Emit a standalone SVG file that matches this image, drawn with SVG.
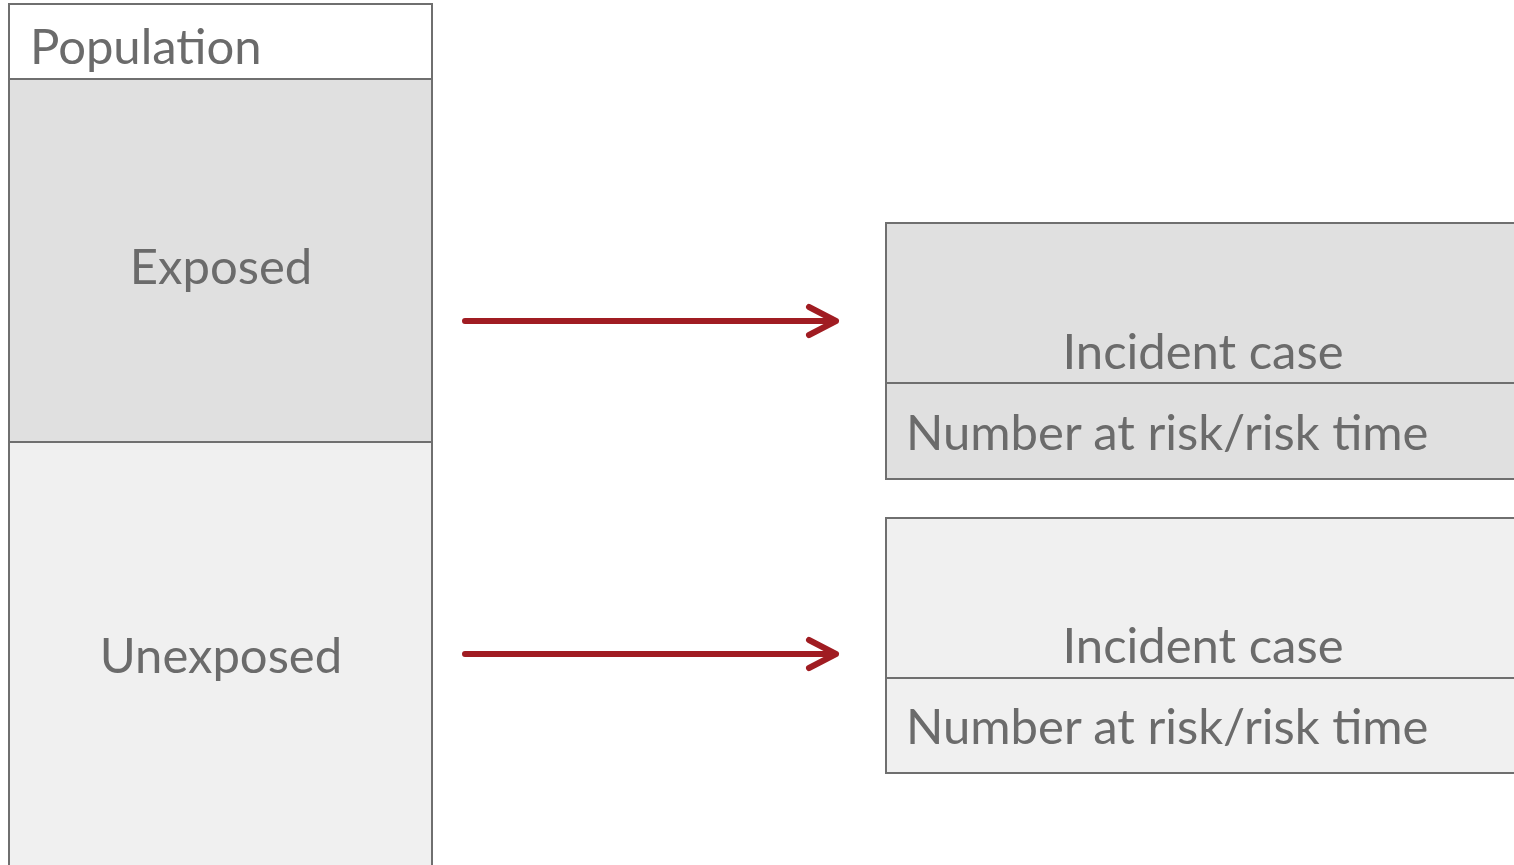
<svg xmlns="http://www.w3.org/2000/svg" width="1514" height="865" viewBox="0 0 1514 865">
<style>
.box{stroke:#6f6f6f;stroke-width:2}
.t{font-family:Lato,"Open Sans",sans-serif;font-size:49px;fill:#6b6b6b}
.arr{stroke:#a01c22;stroke-width:6;fill:none;stroke-linecap:round;stroke-linejoin:round}
</style>
<rect width="1514" height="865" fill="#fff"/>
<g id="population">
<rect class="box" x="9" y="4" width="423" height="75" fill="#fff"/>
<text class="t" x="30" y="64">Population</text>
</g>
<g id="exposed">
<rect class="box" x="9" y="79" width="423" height="363" fill="#e0e0e0"/>
<text class="t" x="221" y="284" text-anchor="middle">Exposed</text>
</g>
<g id="unexposed">
<rect class="box" x="9" y="442" width="423" height="425" fill="#f0f0f0"/>
<text class="t" x="221" y="673" text-anchor="middle">Unexposed</text>
</g>
<g id="exposed-outcome">
<rect class="box" x="886" y="223" width="640" height="160" fill="#e0e0e0"/>
<rect class="box" x="886" y="383" width="640" height="96" fill="#e0e0e0"/>
<text class="t" x="1203" y="369" text-anchor="middle">Incident case</text>
<text class="t" x="906" y="450">Number at risk/risk time</text>
</g>
<g id="unexposed-outcome">
<rect class="box" x="886" y="518" width="640" height="160" fill="#f0f0f0"/>
<rect class="box" x="886" y="678" width="640" height="95" fill="#f0f0f0"/>
<text class="t" x="1203" y="663" text-anchor="middle">Incident case</text>
<text class="t" x="906" y="744">Number at risk/risk time</text>
</g>
<g id="connectors">
<path class="arr" d="M465 321H836M809 307L836 321L809 335"/>
<path class="arr" d="M465 654H836M809 640L836 654L809 668"/>
</g>
</svg>
